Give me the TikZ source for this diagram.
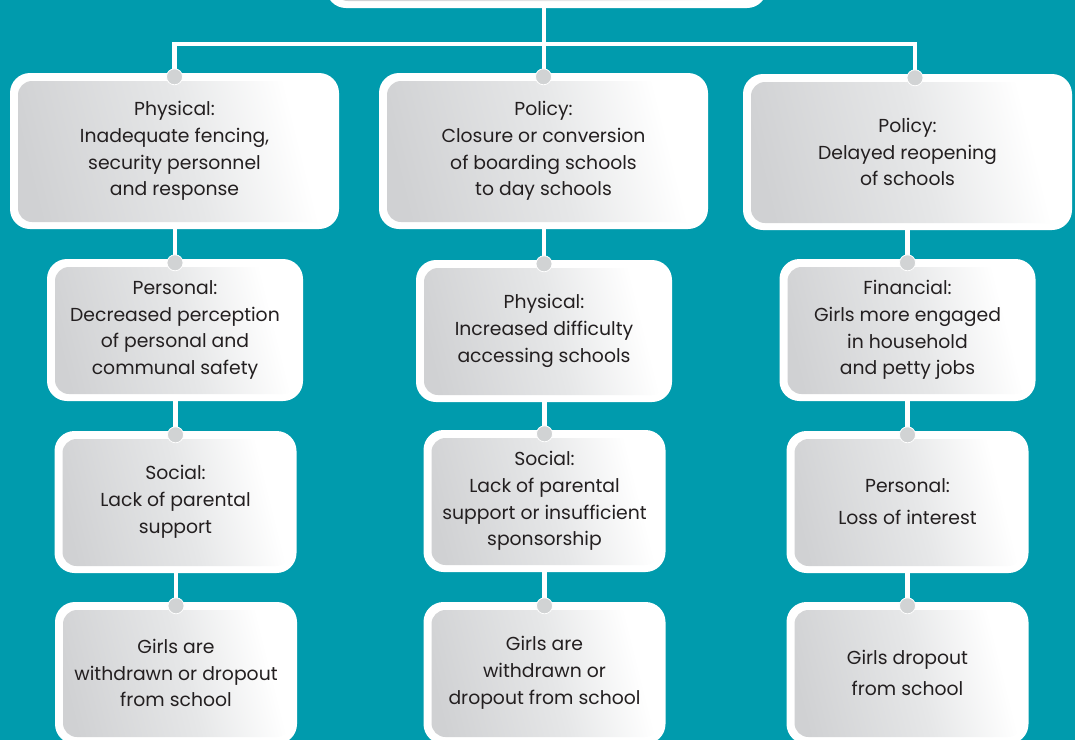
\documentclass[tikz,border=0pt]{standalone}
\usepackage{fontspec}
\setmainfont{Poppins}
\definecolor{bg}{HTML}{009BAD}
\definecolor{shg}{HTML}{D0D1D3}
\definecolor{shm}{HTML}{E6E7E8}
\definecolor{dotc}{HTML}{D1D3D4}
\definecolor{txt}{HTML}{231F20}
\pgfdeclarehorizontalshading{boxshade}{100bp}{color(0bp)=(shg); color(25bp)=(shg); color(52bp)=(shm); color(71bp)=(white); color(100bp)=(white)}
\tikzset{
  card/.style={rounded corners=20pt, fill=white, align=center, text=txt,
    font=\fontsize{18.8}{26.8}\selectfont, inner sep=0pt,
    path picture={\shade[shading=boxshade, shading angle=14, rounded corners=14pt]
      ([shift={(8pt,-8pt)}]path picture bounding box.north west) rectangle
      ([shift={(-7pt,7pt)}]path picture bounding box.south east);}},
  wone/.style={minimum width=329pt, minimum height=156pt},
  wtwo/.style={minimum width=256pt, minimum height=142pt},
  wthree/.style={minimum width=242pt, minimum height=142pt},
  conn/.style={draw=white, line width=4.2pt},
  dotn/.style={circle, fill=dotc, draw=white, line width=0.8pt, minimum size=16pt, inner sep=0pt}
}
\begin{document}
\begin{tikzpicture}[x=1pt, y=-1pt]
\useasboundingbox (0,0) rectangle (1075,740);
\clip (0,0) rectangle (1075,740);
\fill[bg] (0,0) rectangle (1075,740);

% boxes
\node[card, minimum width=441pt, minimum height=120pt] (top) at (546.5,-52) {};

\node[card, wone] (l1) at (174.5,151) {Physical:\\Inadequate fencing,\\security personnel\\and response};
\node[card, wone] (m1) at (543.5,151) {Policy:\\Closure or conversion\\of boarding schools\\to day schools};
\node[card, wone] (r1) at (907.5,152) {Policy:\\Delayed reopening\\of schools};

\node[card, wtwo] (l2) at (175,330) {Personal:\\Decreased perception\\of personal and\\communal safety};
\node[card, wtwo] (m2) at (544,331) {Physical:\\Increased difficulty\\accessing schools};
\node[card, wtwo] (r2) at (907.5,330) {Financial:\\Girls more engaged\\in household\\and petty jobs};

\node[card, wthree] (l3) at (175.5,502) {Social:\\Lack of parental\\support};
\node[card, wthree] (m3) at (544.5,501) {Social:\\Lack of parental\\support or insufficient\\sponsorship};
\node[card, wthree] (r3) at (907.5,502) {Personal:\\[5pt]Loss of interest};

\node[card, wthree] (l4) at (176,673) {Girls are\\withdrawn or dropout\\from school};
\node[card, wthree] (m4) at (544.5,673) {Girls are\\withdrawn or\\dropout from school};
\node[card, wthree] (r4) at (907.5,673) {Girls dropout\\[4pt]from school};

% junction points
\coordinate (hub) at (544,44);
\foreach \n in {l1,m1,l2,m2,r2,l3,m3,r3,l4,m4,r4}{
  \coordinate (\n dot) at ([yshift=-4pt]\n.north);
}
\coordinate (r1dot) at ([xshift=7.5pt,yshift=-4pt]r1.north);

% connectors
\draw[conn] (top.south -| hub) -- (hub);
\draw[conn] (l1dot) |- (hub) -| (r1dot);
\draw[conn] (hub) -- (hub |- m1dot);
\foreach \a/\b in {l1/l2,l2/l3,l3/l4,m1/m2,m2/m3,m3/m4,r1/r2,r2/r3,r3/r4}{
  \draw[conn] (\a.south -| \b dot) -- (\b dot);
}

% dots
\foreach \n in {l1,m1,r1,l2,m2,r2,l3,m3,r3,l4,m4,r4}{
  \node[dotn] at (\n dot) {};
}
\end{tikzpicture}
\end{document}
